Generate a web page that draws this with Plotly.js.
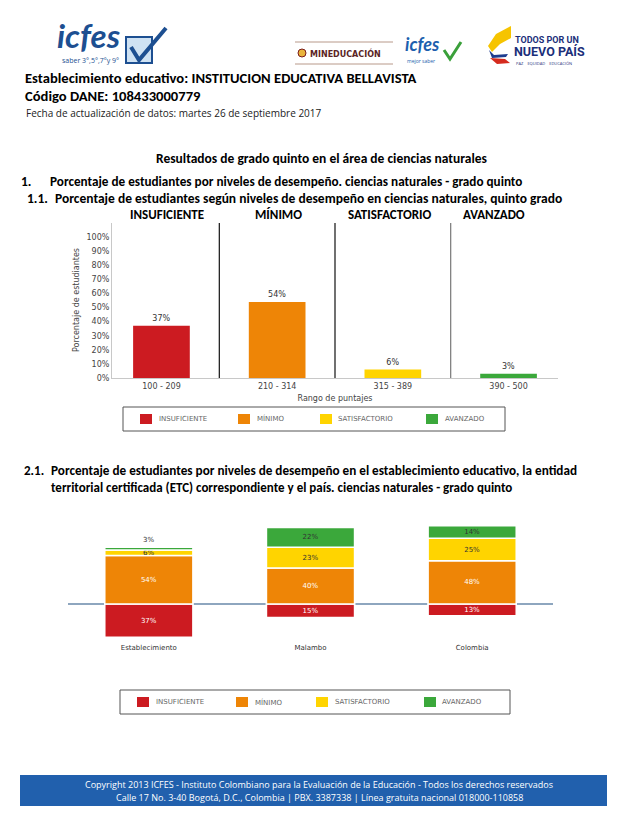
<!DOCTYPE html>
<html>
<head>
<meta charset="utf-8">
<script src="https://cdn.plot.ly/plotly-3.0.1.min.js"></script>
<style>html,body{margin:0;padding:0;background:#fff;}#chart{width:638px;height:826px;}</style>
</head>
<body>
<div id="chart"></div>
<script>
// ---- data ----
const levels = ['INSUFICIENTE', 'MÍNIMO', 'SATISFACTORIO', 'AVANZADO'];
const scoreRanges = ['100 - 209', '210 - 314', '315 - 389', '390 - 500'];
const pctEstablecimiento = [37, 54, 6, 3];
const entities = ['Establecimiento', 'Malambo', 'Colombia'];
const insuficiente = [37, 15, 13];
const minimo = [54, 40, 48];
const satisfactorio = [6, 23, 25];
const avanzado = [3, 22, 14];
const yTicks = [0, 10, 20, 30, 40, 50, 60, 70, 80, 90, 100];
const levelColors = ['#cc1b21', '#ee8506', '#ffd400', '#3ba83b'];

// ---- helpers ----
const W = 638, H = 826;
const px = x => x / W;
const py = y => 1 - y / H;
const BOLD = 'Carlito, "Liberation Sans Narrow", "DejaVu Sans Condensed", sans-serif';
const REG = '"Open Sans", "Noto Sans", sans-serif';
const SMALL = '"DejaVu Sans", Verdana, sans-serif';

function txt(x, y, text, size, opts) {
  opts = opts || {};
  const fam = opts.family || BOLD;
  const font = {family: fam, size: size, color: opts.color || '#000'};
  if (fam === BOLD || opts.weight) font.weight = opts.weight || 'bold';
  if (opts.style) font.style = opts.style;
  return Object.assign({
    xref: 'paper', yref: 'paper', x: px(x), y: py(y), text: text, showarrow: false,
    xanchor: 'left', yanchor: 'middle', font: font
  }, opts.extra || {});
}
function pathStr(pts) {
  return pts.map((p, i) => (i ? 'L' : 'M') + px(p[0]).toFixed(5) + ',' + py(p[1]).toFixed(5)).join(' ');
}

// ---- traces ----
const traces = [];
levels.forEach((lv, i) => {
  traces.push({
    type: 'bar', x: [scoreRanges[i]], y: [pctEstablecimiento[i]], name: lv,
    xaxis: 'x', yaxis: 'y', width: 0.49,
    marker: {color: levelColors[i]},
    text: [pctEstablecimiento[i] + '%'], textposition: 'outside', cliponaxis: false,
    textfont: {family: SMALL, size: 8, color: '#333'}, showlegend: false, hoverinfo: 'skip'
  });
});
const stackSeries = [insuficiente, minimo, satisfactorio, avanzado];
const stackTextColors = ['#ffffff', '#ffffff', '#333333', '#333333'];
stackSeries.forEach((vals, i) => {
  const last = i === stackSeries.length - 1;
  traces.push({
    type: 'bar', x: entities, y: vals.map(v => i === 0 ? -v : v), name: levels[i],
    xaxis: 'x2', yaxis: 'y2', width: 0.545,
    marker: {color: levelColors[i], line: {color: '#ffffff', width: 1.5}},
    text: vals.map(v => v + '%'),
    textposition: vals.map(v => (last && v < 5) ? 'outside' : 'inside'),
    insidetextanchor: 'middle', constraintext: 'none', textangle: 0, cliponaxis: false,
    textfont: {family: SMALL, size: 7, color: stackTextColors[i]},
    showlegend: false, hoverinfo: 'skip'
  });
});

// ---- annotations ----
const ann = [];
ann.push(txt(23, 78, 'Establecimiento educativo: INSTITUCION EDUCATIVA BELLAVISTA', 14.6));
ann.push(txt(23, 96, 'Código DANE: 108433000779', 14.6));
ann.push(txt(24, 113, 'Fecha de actualización de datos: martes 26 de septiembre 2017', 10, {family: REG, color: '#222'}));
ann.push(txt(322, 158, 'Resultados de grado quinto en el área de ciencias naturales', 13.5, {extra: {xanchor: 'center'}}));
ann.push(txt(19, 182, '1.', 13.5));
ann.push(txt(48, 182, 'Porcentaje de estudiantes por niveles de desempeño. ciencias naturales - grado quinto', 13.2));
ann.push(txt(25, 199, '1.1.', 13.5));
ann.push(txt(53, 199, 'Porcentaje de estudiantes según niveles de desempeño en ciencias naturales, quinto grado', 13.5));
const headerX = [167, 278, 389, 494];
levels.forEach((lv, i) => ann.push(txt(headerX[i], 215, lv, 13, {extra: {xanchor: 'center'}})));
ann.push(txt(76, 300, 'Porcentaje de estudiantes', 8, {family: SMALL, color: '#444', extra: {xanchor: 'center', textangle: -90}}));
ann.push(txt(22, 470, '2.1.', 13));
ann.push(txt(49, 470, 'Porcentaje de estudiantes por niveles de desempeño en el establecimiento educativo, la entidad', 13.2));
ann.push(txt(49, 487, 'territorial certificada (ETC) correspondiente y el país. ciencias naturales - grado quinto', 13));
// footer
ann.push(txt(319, 784, 'Copyright 2013 ICFES - Instituto Colombiano para la Evaluación de la Educación - Todos los derechos reservados', 9, {family: REG, color: '#fff', extra: {xanchor: 'center'}}));
ann.push(txt(319, 797, 'Calle 17 No. 3-40 Bogotá, D.C., Colombia | PBX. 3387338 | Línea gratuita nacional 018000-110858', 9, {family: REG, color: '#fff', extra: {xanchor: 'center'}}));
// logos text
ann.push(txt(55, 57, 'icfes', 33, {family: 'Lato, sans-serif', color: '#1d4f91', weight: 'bold', style: 'italic', extra: {yanchor: 'bottom'}}));
ann.push(txt(60, 61, 'saber 3°,5°,7°y 9°', 7, {family: REG, color: '#1d4f91'}));
ann.push(txt(308, 53, 'MINEDUCACIÓN', 8, {family: SMALL, color: '#5b2424', weight: 'bold'}));
ann.push(txt(403, 57, 'icfes', 18, {family: 'Lato, sans-serif', color: '#1d5fae', weight: 'bold', style: 'italic', extra: {yanchor: 'bottom'}}));
ann.push(txt(405, 61, 'mejor saber', 5, {family: REG, color: '#1d5fae'}));
ann.push(txt(513, 40, 'TODOS POR UN', 9, {family: 'Roboto, sans-serif', color: '#1b2f7a', weight: 'bold'}));
ann.push(txt(512, 52, 'NUEVO PAÍS', 12.5, {family: 'Roboto, sans-serif', color: '#1b2f7a', weight: 'bold'}));
ann.push(txt(514, 63, 'PAZ    EQUIDAD    EDUCACIÓN', 4, {family: REG, color: '#1b2f7a'}));

// ---- shapes ----
const shapes = [];
// chart 1 separators
[0.5, 1.5, 2.5].forEach((xv, i) => shapes.push({
  type: 'line', xref: 'x', yref: 'y', x0: xv, x1: xv, y0: 0, y1: 110,
  line: {color: i === 2 ? '#777' : '#111', width: 1.2}
}));
// legends
function legendBox(x0, x1, y0, y1, swX, txX) {
  shapes.push({type: 'rect', xref: 'paper', yref: 'paper', x0: px(x0), x1: px(x1), y0: py(y1), y1: py(y0),
    line: {color: '#555', width: 1}, fillcolor: 'rgba(0,0,0,0)'});
  const yc = (y0 + y1) / 2;
  levels.forEach((lv, i) => {
    shapes.push({type: 'rect', xref: 'paper', yref: 'paper', x0: px(swX[i]), x1: px(swX[i] + 12),
      y0: py(yc + 5), y1: py(yc - 5), line: {width: 0}, fillcolor: levelColors[i]});
    ann.push(txt(txX[i], yc, lv, 7, {family: SMALL, color: '#666'}));
  });
}
legendBox(123, 505, 407, 431, [140, 238, 320, 426], [157, 255, 336, 443]);
legendBox(120, 510, 690, 714, [137, 236, 316, 424], [154, 253, 333, 440]);
// footer band
shapes.push({type: 'rect', xref: 'paper', yref: 'paper', x0: px(20), x1: px(607), y0: py(806), y1: py(775),
  line: {width: 0}, fillcolor: '#2160ad', layer: 'below'});
// logo: icfes check box
shapes.push({type: 'rect', xref: 'paper', yref: 'paper', x0: px(126), x1: px(152), y0: py(63), y1: py(37),
  line: {color: '#1d4f91', width: 2}, fillcolor: '#cfe2f3'});
shapes.push({type: 'path', xref: 'paper', yref: 'paper', path: pathStr([[131, 47], [139, 60], [166, 28]]),
  line: {color: '#1d4f91', width: 4}});
// mineducacion
shapes.push({type: 'line', xref: 'paper', yref: 'paper', x0: px(295), x1: px(393), y0: py(42), y1: py(42), line: {color: '#b8998a', width: 1}});
shapes.push({type: 'line', xref: 'paper', yref: 'paper', x0: px(295), x1: px(393), y0: py(64), y1: py(64), line: {color: '#b8998a', width: 1}});
shapes.push({type: 'circle', xref: 'paper', yref: 'paper', x0: px(298), x1: px(306), y0: py(57), y1: py(49),
  line: {color: '#7a1c1c', width: 1}, fillcolor: '#e9b43c'});
// icfes small check
shapes.push({type: 'path', xref: 'paper', yref: 'paper', path: pathStr([[444, 50], [450, 59], [461, 42]]),
  line: {color: '#3aa03a', width: 3}});
// todos por un nuevo pais swoosh
shapes.push({type: 'path', xref: 'paper', yref: 'paper', path: pathStr([[511, 26], [496, 34], [488, 46], [492, 52], [500, 44], [511, 38]]) + ' Z',
  line: {width: 0}, fillcolor: '#f6c400'});
shapes.push({type: 'path', xref: 'paper', yref: 'paper', path: pathStr([[489, 50], [494, 55], [508, 54], [506, 57], [492, 58]]) + ' Z',
  line: {width: 0}, fillcolor: '#1d3c8f'});
shapes.push({type: 'path', xref: 'paper', yref: 'paper', path: pathStr([[490, 58], [505, 59], [510, 63], [497, 64]]) + ' Z',
  line: {width: 0}, fillcolor: '#d52b1e'});

// ---- layout ----
const layout = {
  width: W, height: H, margin: {l: 0, r: 0, t: 0, b: 0},
  paper_bgcolor: '#fff', plot_bgcolor: 'rgba(0,0,0,0)',
  barmode: 'relative', showlegend: false,
  xaxis: {
    domain: [px(112), px(558)], range: [-0.4275, 3.4275], anchor: 'y',
    showline: true, linecolor: '#c8c8c8', linewidth: 1, ticks: '', showgrid: false,
    tickfont: {family: SMALL, size: 8, color: '#444'},
    title: {text: 'Rango de puntajes', font: {family: SMALL, size: 8, color: '#444'}, standoff: 5},
    fixedrange: true
  },
  yaxis: {
    domain: [py(378), py(223)], range: [0, 110], anchor: 'x',
    tickmode: 'array', tickvals: yTicks, ticktext: yTicks.map(v => v + '%'),
    showline: true, linecolor: '#c8c8c8', linewidth: 1, ticks: '', showgrid: false, zeroline: false,
    tickfont: {family: SMALL, size: 8, color: '#444'}, fixedrange: true
  },
  xaxis2: {
    domain: [px(68), px(553)], range: [-0.5, 2.5], anchor: 'y2',
    showline: false, ticks: '', showgrid: false,
    tickfont: {family: SMALL, size: 7, color: '#333'}, fixedrange: true
  },
  yaxis2: {
    domain: [py(642), py(518)], range: [-42.2, 95.6], anchor: 'x2',
    showticklabels: false, showgrid: false, showline: false,
    zeroline: true, zerolinecolor: '#8ea6bf', zerolinewidth: 2, fixedrange: true
  },
  annotations: ann,
  shapes: shapes
};

Plotly.newPlot('chart', traces, layout, {displayModeBar: false, staticPlot: true});
</script>
</body>
</html>
